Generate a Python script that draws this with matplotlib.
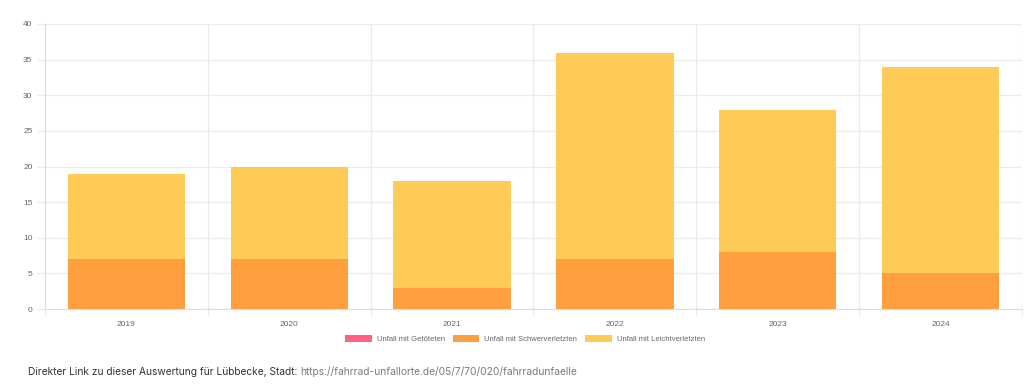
import matplotlib.pyplot as plt
import numpy as np
from matplotlib.patches import Patch

YEARS = ["2019", "2020", "2021", "2022", "2023", "2024"]
GETOETETE = [0, 0, 0, 0, 0, 0]
SCHWER = [7, 7, 3, 7, 8, 5]
LEICHT = [12, 13, 15, 29, 20, 29]
LABELS = ["Unfall mit Getöteten", "Unfall mit Schwerverletzten", "Unfall mit Leichtverletzten"]
COLORS = ["#ff6384", "#ff9f40", "#ffcb57"]

plt.rcParams["font.family"] = ["Liberation Sans", "DejaVu Sans"]

fig = plt.figure(figsize=(10.24, 3.86), dpi=100)
W, H = 1024, 386
ax = fig.add_axes([45 / W, 1 - 309 / H, (1022 - 45) / W, (309 - 24) / H])

x = np.arange(len(YEARS))
width = 0.72
bottom = np.zeros(len(YEARS))
for vals, color in zip([GETOETETE, SCHWER, LEICHT], COLORS):
    vals = np.array(vals, dtype=float)
    ax.bar(x, vals, width, bottom=bottom, color=color, zorder=2)
    bottom += vals

ax.set_xlim(-0.5, len(YEARS) - 0.5)
ax.set_ylim(0, 40)
ax.set_yticks(np.arange(0, 41, 5))
ax.set_xticks(x)
ax.set_xticklabels(YEARS)
ax.set_xticks(np.arange(-0.5, len(YEARS)), minor=True)

ax.grid(axis="y", which="major", color="#ebebeb", linewidth=0.9, zorder=0)
ax.grid(axis="x", which="minor", color="#ebebeb", linewidth=0.9, zorder=0)
ax.tick_params(axis="x", which="major", length=0, pad=9, labelsize=6, labelcolor="#666666")
ax.tick_params(axis="x", which="minor", length=5, color="#ebebeb", width=0.9)
ax.tick_params(axis="y", length=6, color="#ebebeb", width=0.9, pad=3, labelsize=6, labelcolor="#666666")
for side in ["top", "right"]:
    ax.spines[side].set_visible(False)
ax.spines["left"].set_color("#dddddd")
ax.spines["bottom"].set_color("#dddddd")
ax.set_axisbelow(True)

handles = [Patch(facecolor=c, edgecolor="none") for c in COLORS]
fig.legend(handles, LABELS, loc="center", bbox_to_anchor=(525 / W, 1 - 339 / H),
           ncol=3, frameon=False, fontsize=5.5, labelcolor="#666666",
           handlelength=3.5, handleheight=1.0, handletextpad=0.65, columnspacing=1.0)

t1 = fig.text(28 / W, 1 - 372 / H, "Direkter Link zu dieser Auswertung für Lübbecke, Stadt: ",
              fontsize=7.35, color="#333333", va="center", family=["Inter", "DejaVu Sans"])
fig.canvas.draw()
ax.annotate("https://fahrrad-unfallorte.de/05/7/70/020/fahrradunfaelle", xy=(1, 0.5),
            xycoords=t1, va="center", ha="left", fontsize=7.35, color="#7a7a7a",
            family=["Inter", "DejaVu Sans"], annotation_clip=False)

fig.savefig("out.png", dpi=100)
